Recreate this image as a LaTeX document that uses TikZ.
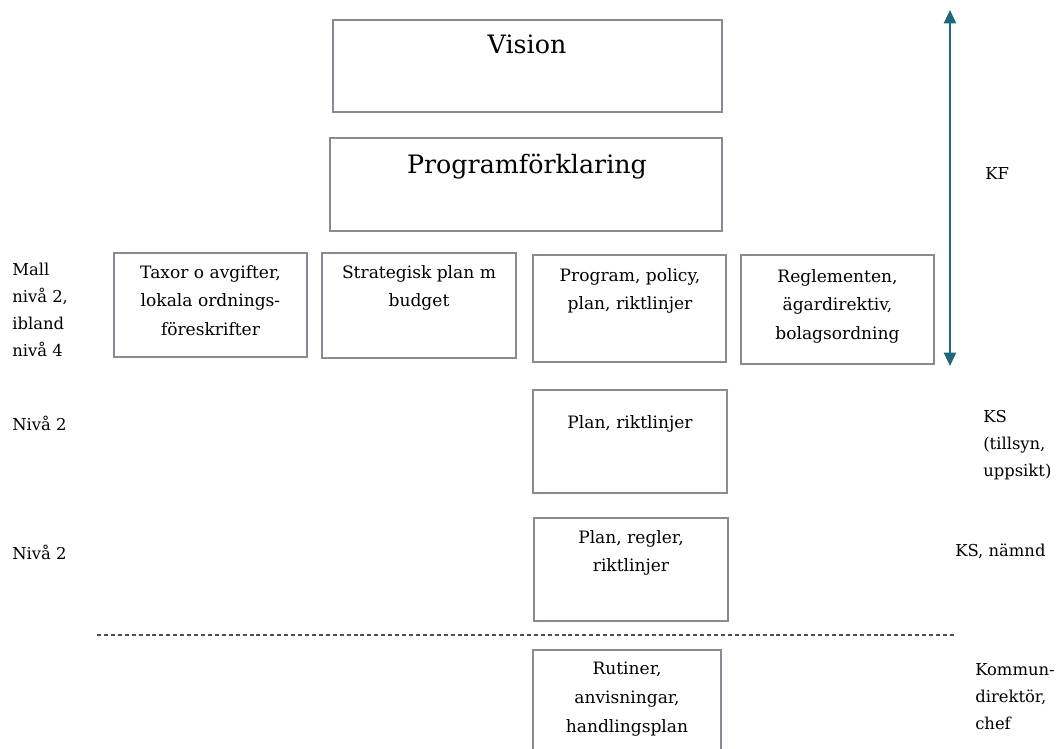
\documentclass[tikz,border=0pt]{standalone}
\usepackage{fontspec}
\setmainfont{DejaVu Serif}
\usetikzlibrary{arrows.meta,fit,calc}
\definecolor{teal1}{HTML}{1F6A78}
\definecolor{boxgray}{HTML}{8A8A95}
\definecolor{dashcol}{HTML}{4A4E60}
\begin{document}
\begin{tikzpicture}[x=0.75pt,y=-0.75pt,
  box/.style={draw=boxgray, line width=0.8pt, inner sep=0pt, fill=none},
  bigtxt/.style={font=\fontsize{19}{24}\selectfont, anchor=north, inner sep=0pt, align=center},
  smalltxt/.style={font=\fontsize{12.8}{21.5}\selectfont, anchor=north, inner sep=0pt, align=center},
  sidetxt/.style={font=\fontsize{12.3}{20.3}\selectfont, anchor=north west, inner sep=0pt, align=left},
  arr/.style={draw=teal1, line width=1.6pt, {Triangle[length=10pt,width=9pt]}-{Triangle[length=10pt,width=9pt]}},
  sep/.style={draw=dashcol, line width=0.9pt, dash pattern=on 3pt off 2.2pt}
]
\useasboundingbox (0,0) rectangle (1061,749);
% boxes
\node[box, fit={(333,20) (722,112)}] (vision) {};
\node[box, fit={(330,138) (722,231)}] (progf) {};
\node[box, fit={(114,253) (307,357)}] (taxor) {};
\node[box, fit={(322,253) (516,358)}] (strat) {};
\node[box, fit={(533,255) (726,362)}] (program) {};
\node[box, fit={(741,255) (934,364)}] (regl) {};
\node[box, fit={(533,390) (727,493)}] (planr) {};
\node[box, fit={(534,518) (728,621)}] (planrr) {};
\node[box, fit={(533,650) (721,770)}] (rutiner) {};
% texts
\node[bigtxt] (visiont) at (527,35) {Vision};
\node[bigtxt] (progft) at (527,154) {Programförklaring};
\node[smalltxt] (taxort) at (210.5,265) {Taxor o avgifter,\\lokala ordnings-\\föreskrifter};
\node[smalltxt] (stratt) at (419,265) {Strategisk plan m\\budget};
\node[smalltxt] (programt) at (630,268) {Program, policy,\\plan, riktlinjer};
\node[smalltxt] (reglt) at (837.5,269) {Reglementen,\\ägardirektiv,\\bolagsordning};
\node[smalltxt] (planrt) at (630,415) {Plan, riktlinjer};
\node[smalltxt] (planrrt) at (631,530) {Plan, regler,\\riktlinjer};
\node[smalltxt] (rutinert) at (627,662) {Rutiner,\\anvisningar,\\handlingsplan};
% side labels
\node[sidetxt] (mall) at (12,263) {Mall\\nivå 2,\\ibland\\nivå 4};
\node[sidetxt] (niva1) at (12,416) {Nivå 2};
\node[sidetxt] (niva2) at (12,545) {Nivå 2};
\node[sidetxt] (kf) at (985,167) {KF};
\node[sidetxt] (ks) at (983,410) {KS\\(tillsyn,\\uppsikt)};
\node[sidetxt] (ksn) at (955,544) {KS, nämnd};
\node[sidetxt] (komm) at (975,663) {Kommun-\\direktör,\\chef};
% arrow and separator
\coordinate (atop) at (950,10);
\coordinate (abot) at (950,366);
\draw[arr] (atop) -- (abot);
\coordinate (sepl) at (97,635);
\coordinate (sepr) at (955,635);
\draw[sep] (sepl) -- (sepr);
\end{tikzpicture}
\end{document}
